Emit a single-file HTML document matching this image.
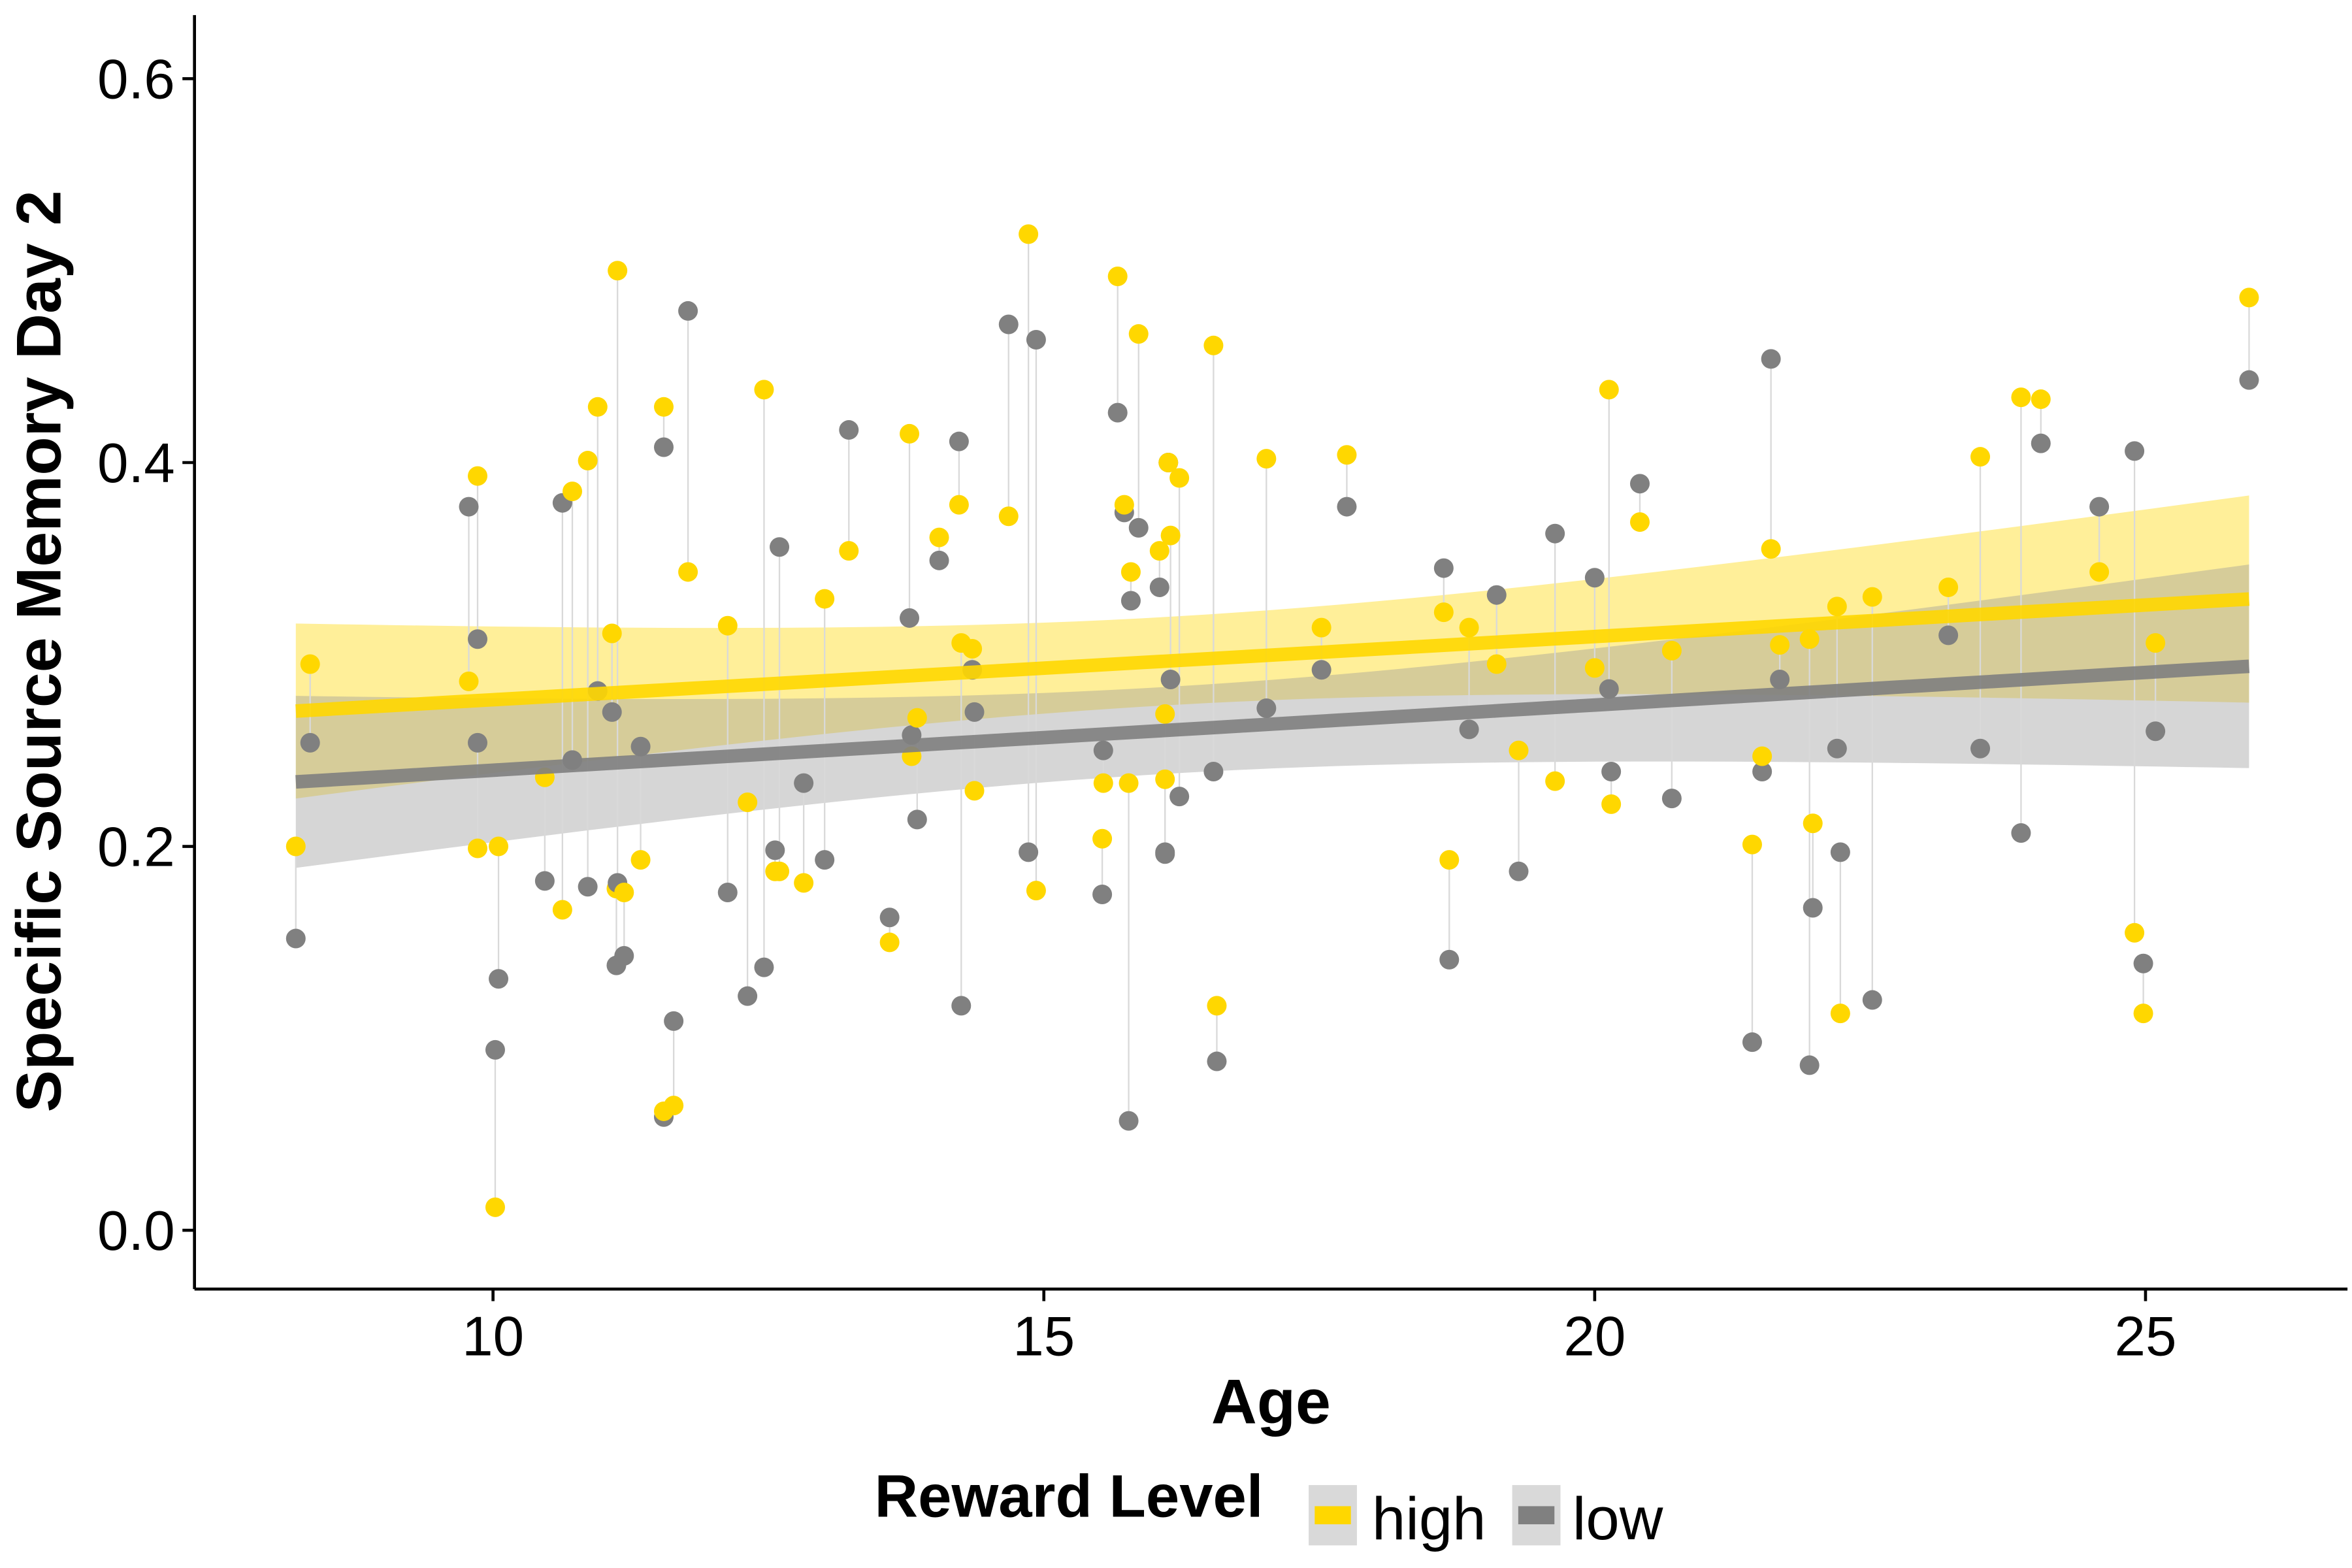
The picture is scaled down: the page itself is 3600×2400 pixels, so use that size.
<!DOCTYPE html>
<html><head><meta charset="utf-8"><style>
html,body{margin:0;padding:0;background:#fff;}
svg{display:block;}
text{font-family:"Liberation Sans",sans-serif;}
</style></head><body>
<svg id="chart" width="3600" height="2400" viewBox="0 0 1560 1040" xmlns="http://www.w3.org/2000/svg">
<rect width="1560" height="1040" fill="#fff"/>
<g id="ribbons"></g>
<g id="connectors"></g>
<g id="points"></g>
<g id="lines"></g>
<g id="axes"></g>
</svg>
<script>
const ages=[8.21,8.34,9.78,9.86,9.86,10.02,10.05,10.47,10.63,10.72,10.86,10.95,11.08,11.12,11.13,11.19,11.34,11.55,11.55,11.64,11.77,12.13,12.31,12.46,12.56,12.60,12.82,13.01,13.23,13.60,13.78,13.80,13.85,14.05,14.23,14.25,14.35,14.37,14.68,14.86,14.93,15.53,15.54,15.67,15.73,15.77,15.79,15.86,16.05,16.10,16.10,16.13,16.15,16.23,16.54,16.57,17.02,17.52,17.75,18.63,18.68,18.86,19.11,19.31,19.64,20.00,20.13,20.15,20.41,20.70,21.43,21.52,21.60,21.68,21.95,21.98,22.20,22.23,22.52,23.21,23.50,23.87,24.05,24.58,24.90,24.98,25.09,25.94];
const highVals=[0.200,0.295,0.286,0.393,0.199,0.012,0.200,0.236,0.167,0.385,0.401,0.429,0.311,0.178,0.500,0.176,0.193,0.429,0.062,0.065,0.343,0.315,0.223,0.438,0.187,0.187,0.181,0.329,0.354,0.150,0.415,0.247,0.267,0.361,0.378,0.306,0.303,0.229,0.372,0.519,0.177,0.204,0.233,0.497,0.378,0.233,0.343,0.467,0.354,0.269,0.235,0.400,0.362,0.392,0.461,0.117,0.402,0.314,0.404,0.322,0.193,0.314,0.295,0.250,0.234,0.293,0.438,0.222,0.369,0.302,0.201,0.247,0.355,0.305,0.308,0.212,0.325,0.113,0.330,0.335,0.403,0.434,0.433,0.343,0.155,0.113,0.306,0.486];
const lowVals=[0.152,0.254,0.377,0.308,0.254,0.094,0.131,0.182,0.379,0.245,0.179,0.281,0.270,0.138,0.181,0.143,0.252,0.408,0.059,0.109,0.479,0.176,0.122,0.137,0.198,0.356,0.233,0.193,0.417,0.163,0.319,0.258,0.214,0.349,0.411,0.117,0.292,0.270,0.472,0.197,0.464,0.175,0.250,0.426,0.374,0.057,0.328,0.366,0.335,0.197,0.196,0.400,0.287,0.226,0.239,0.088,0.272,0.292,0.377,0.345,0.141,0.261,0.331,0.187,0.363,0.340,0.282,0.239,0.389,0.225,0.098,0.239,0.454,0.287,0.086,0.168,0.251,0.197,0.120,0.310,0.251,0.207,0.410,0.377,0.406,0.139,0.260,0.443];
const xTicks=[10,15,20,25];
const yTicks=[0.0,0.2,0.4,0.6];
const yTickLabels=["0.0","0.2","0.4","0.6"];

const X=a=>327+(a-10)*73.07;
const Y=v=>816-v*1273;
const NS="http://www.w3.org/2000/svg";
function mk(tag,attrs,parent){const e=document.createElementNS(NS,tag);for(const k in attrs)e.setAttribute(k,attrs[k]);parent.appendChild(e);return e;}
const gR=document.getElementById('ribbons'),gC=document.getElementById('connectors'),gP=document.getElementById('points'),gL=document.getElementById('lines'),gA=document.getElementById('axes');

function fit(xs,ys){
  const n=xs.length,mx=xs.reduce((a,b)=>a+b)/n,my=ys.reduce((a,b)=>a+b)/n;
  let sxx=0,sxy=0;for(let i=0;i<n;i++){sxx+=(xs[i]-mx)**2;sxy+=(xs[i]-mx)*(ys[i]-my);}
  const b=sxy/sxx,a=my-b*mx;let sse=0;for(let i=0;i<n;i++)sse+=(ys[i]-a-b*xs[i])**2;
  const s=Math.sqrt(sse/(n-2));return {a,b,s,n,mx,sxx};
}
const amin=Math.min(...ages),amax=Math.max(...ages);
function drawSeries(vals,fillRib,lineCol,name){
  const f=fit(ages,vals);const up=[],lo=[],ln=[];
  for(let i=0;i<=60;i++){const x=amin+(amax-amin)*i/60;const yh=f.a+f.b*x;
    const se=f.s*Math.sqrt(1/f.n+(x-f.mx)**2/f.sxx)*1.99;
    up.push(X(x)+','+Y(yh+se));lo.unshift(X(x)+','+Y(yh-se));ln.push(X(x)+','+Y(yh));}
  const r=mk('polygon',{points:up.concat(lo).join(' '),fill:fillRib,'fill-opacity':0.4},gR);
  
  
  const l=mk('polyline',{points:ln.join(' '),fill:'none',stroke:lineCol,'stroke-width':9,'stroke-opacity':0.9},gL);
  
  
}
drawSeries(highVals,'#FFD700','#FFD700','high');
drawSeries(lowVals,'#999999','#808080','low');
for(let i=0;i<ages.length;i++){
  const c=mk('line',{x1:X(ages[i]),x2:X(ages[i]),y1:Y(highVals[i]),y2:Y(lowVals[i]),stroke:'#d9d9d9','stroke-width':1},gC);
  
  
}
for(let i=0;i<ages.length;i++){
  const p=mk('circle',{cx:X(ages[i]),cy:Y(lowVals[i]),r:6.5,fill:'#808080'},gP);
  
  
  const q=mk('circle',{cx:X(ages[i]),cy:Y(highVals[i]),r:6.5,fill:'#FFD700'},gP);
  
  
}
const ax=mk('line',{x1:129,x2:1557,y1:855,y2:855,stroke:'#000','stroke-width':2},gA);


const ay=mk('line',{x1:129,x2:129,y1:10,y2:855,stroke:'#000','stroke-width':2},gA);


xTicks.forEach(t=>{
  mk('line',{x1:X(t),x2:X(t),y1:855,y2:863,stroke:'#000','stroke-width':2},gA);
  const tx=mk('text',{x:X(t),y:899,'text-anchor':'middle','font-size':37,fill:'#000'},gA);tx.textContent=t;
  
  
});
yTicks.forEach((t,i)=>{
  mk('line',{x1:121,x2:129,y1:Y(t),y2:Y(t),stroke:'#000','stroke-width':2},gA);
  const tx=mk('text',{x:116,y:Y(t)+13,'text-anchor':'end','font-size':37,fill:'#000'},gA);tx.textContent=yTickLabels[i];
  
  
});
</script>
<svg style="position:absolute;left:0;top:0" width="3600" height="2400" viewBox="0 0 1560 1040">
<text x="843" y="944" text-anchor="middle" font-size="42" font-weight="bold">Age</text>
<text transform="translate(40,432) rotate(-90)" text-anchor="middle" font-size="42" font-weight="bold">Specific Source Memory Day 2</text>
<text x="580" y="1006" font-size="40" font-weight="bold">Reward Level</text>
<g>
<rect x="868" y="985" width="32" height="40" fill="#d9d9d9"/>
<rect x="872" y="999" width="24" height="12" fill="#FFD700"/>
<text x="910" y="1021" font-size="40">high</text>
</g>
<g>
<rect x="1003" y="985" width="32" height="40" fill="#d9d9d9"/>
<rect x="1007" y="999" width="24" height="12" fill="#808080"/>
<text x="1043" y="1021" font-size="40">low</text>
</g>
</svg>
</body></html>
